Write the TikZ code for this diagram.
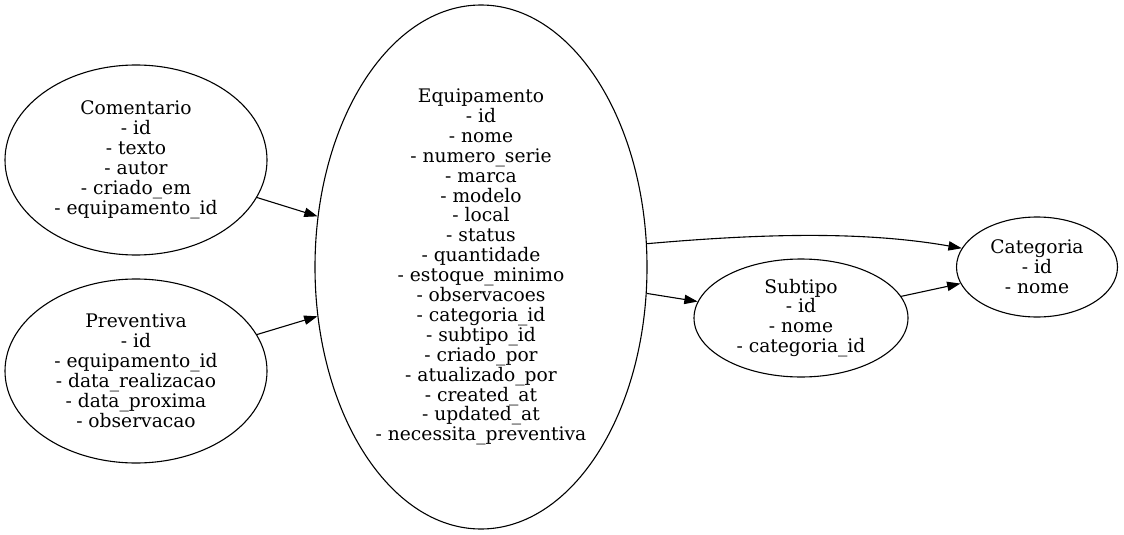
\documentclass[tikz,border=0pt]{standalone}
\usepackage{fontspec}
\setmainfont{DejaVu Serif}
\usetikzlibrary{shapes.geometric,arrows.meta}

\tikzset{
    entity/.style={draw, ellipse, inner sep=0pt, align=center,
        font=\fontsize{18.67}{19.9}\selectfont},
    relation/.style={-{Triangle[length=13.3pt,width=9.3pt]}}
}

\begin{document}
\begin{tikzpicture}[x=1pt, y=-1pt, line width=1.1pt]

    \useasboundingbox (0, 0) rectangle (1124, 535);

    \node[entity, minimum width=262pt, minimum height=190pt] (comentario) at (136, 160)
        {Comentario\\- id\\- texto\\- autor\\- criado\_em\\- equipamento\_id};
    \node[entity, minimum width=262pt, minimum height=184pt] (preventiva) at (136, 371)
        {Preventiva\\- id\\- equipamento\_id\\- data\_realizacao\\- data\_proxima\\- observacao};
    \node[entity, minimum width=332pt, minimum height=524pt] (equipamento) at (481, 267)
        {Equipamento\\- id\\- nome\\- numero\_serie\\- marca\\- modelo\\- local\\- status\\- quantidade\\- estoque\_minimo\\- observacoes\\- categoria\_id\\- subtipo\_id\\- criado\_por\\- atualizado\_por\\- created\_at\\- updated\_at\\- necessita\_preventiva};
    \node[entity, minimum width=214pt, minimum height=118pt] (subtipo) at (801, 318)
        {Subtipo\\- id\\- nome\\- categoria\_id};
    \node[entity, minimum width=161pt, minimum height=100pt] (categoria) at (1037, 267)
        {Categoria\\- id\\- nome};

    \draw[relation] (comentario) -- (equipamento);
    \draw[relation] (preventiva) -- (equipamento);
    \draw[relation] (equipamento.8) to[out=5, in=170, looseness=0.85] (categoria.166);
    \draw[relation] (equipamento) -- (subtipo);
    \draw[relation] (subtipo) -- (categoria);
\end{tikzpicture}
\end{document}
